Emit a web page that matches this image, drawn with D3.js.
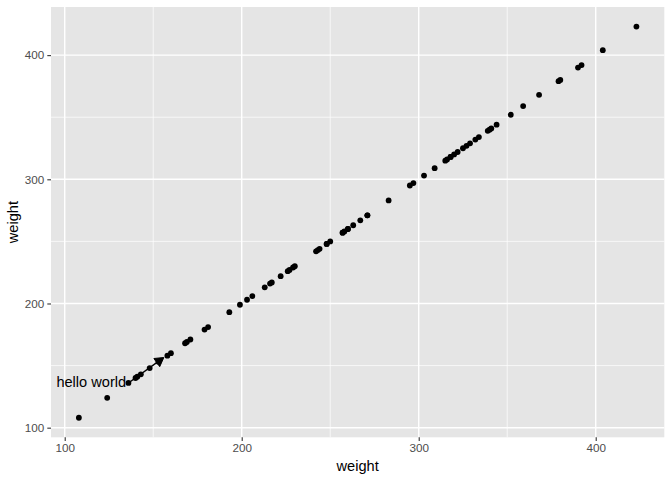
<!DOCTYPE html>
<html><head><meta charset="utf-8">
<script src="https://cdn.jsdelivr.net/npm/d3@7"></script>
<style>body{margin:0;background:#fff}svg{display:block}text{font-family:"Liberation Sans",Arial,Helvetica,sans-serif}</style>
</head><body>
<script>
const weights = [179,160,136,227,217,168,108,124,143,140,
 309,229,181,141,260,203,148,169,213,257,244,271,
 243,230,248,327,329,250,193,271,316,267,199,171,158,248,
 423,340,392,339,341,226,320,295,334,322,297,318,
 325,257,303,315,380,153,263,242,206,344,258,
 368,390,379,260,404,318,352,359,216,222,283,332];
const xTicks = [100,200,300,400];
const yTicks = [100,200,300,400];
const minorTicks = [150,250,350];
const annotationText = ["hello world"];
const annotationPos = [[115,136.5]];
const arrowFrom = [136,136];
const arrowTo = [156,156.5];

const W=672,H=480;
const pl=51,pr=664.3,pt=7,pb=437.3;
const x=d3.scaleLinear().domain([92.25,438.75]).range([pl,pr]);
const y=d3.scaleLinear().domain([92.25,438.75]).range([pb,pt]);
const svg=d3.select("body").append("svg").attr("width",W).attr("height",H);
svg.append("rect").attr("x",pl).attr("y",pt).attr("width",pr-pl).attr("height",pb-pt).attr("fill","#E5E5E5");
const g=svg.append("g");
g.selectAll(".vmin").data(minorTicks).join("line").attr("x1",d=>x(d)).attr("x2",d=>x(d)).attr("y1",pt).attr("y2",pb).attr("stroke","#fff").attr("stroke-width",0.7);
g.selectAll(".hmin").data(minorTicks).join("line").attr("y1",d=>y(d)).attr("y2",d=>y(d)).attr("x1",pl).attr("x2",pr).attr("stroke","#fff").attr("stroke-width",0.7);
g.selectAll(".vmaj").data(xTicks).join("line").attr("x1",d=>x(d)).attr("x2",d=>x(d)).attr("y1",pt).attr("y2",pb).attr("stroke","#fff").attr("stroke-width",1.4);
g.selectAll(".hmaj").data(yTicks).join("line").attr("y1",d=>y(d)).attr("y2",d=>y(d)).attr("x1",pl).attr("x2",pr).attr("stroke","#fff").attr("stroke-width",1.4);

// axes
const xa=svg.append("g").attr("transform",`translate(0,${pb})`).call(d3.axisBottom(x).tickValues(xTicks).tickSize(3.7).tickPadding(3));
const ya=svg.append("g").attr("transform",`translate(${pl},0)`).call(d3.axisLeft(y).tickValues(yTicks).tickSize(3.7).tickPadding(3));
[xa,ya].forEach(a=>{a.select(".domain").remove();a.selectAll(".tick line").attr("stroke","#333").attr("stroke-width",1.1);a.selectAll(".tick text").attr("fill","#4D4D4D").attr("font-size","11.7px").attr("font-family","Liberation Sans, Arial, sans-serif");});

// points
svg.append("g").selectAll("circle").data(weights).join("circle").attr("cx",d=>x(d)).attr("cy",d=>y(d)).attr("r",2.9).attr("fill","#000");

// annotation arrow
const x1=x(arrowFrom[0]),y1=y(arrowFrom[1]),x2=x(arrowTo[0]),y2=y(arrowTo[1]);
const ang=Math.atan2(y2-y1,x2-x1),L=10,hw=Math.PI/6;
svg.append("line").attr("x1",x1).attr("y1",y1).attr("x2",x2-Math.cos(ang)*L*0.8).attr("y2",y2-Math.sin(ang)*L*0.8).attr("stroke","#000").attr("stroke-width",1.4);
svg.append("path").attr("d",`M${x2},${y2}L${x2-L*Math.cos(ang-hw)},${y2-L*Math.sin(ang-hw)}L${x2-L*Math.cos(ang+hw)},${y2-L*Math.sin(ang+hw)}Z`).attr("fill","#000").attr("stroke","#000").attr("stroke-width",1);
svg.selectAll(".ann").data(annotationText).join("text").attr("x",(d,i)=>x(annotationPos[i][0])).attr("y",(d,i)=>y(annotationPos[i][1])).attr("dy","0.35em").attr("text-anchor","middle").attr("font-size","14.6px").attr("fill","#000").text(d=>d);

// titles
svg.append("text").attr("x",(pl+pr)/2).attr("y",471).attr("text-anchor","middle").attr("font-size","14.6px").attr("fill","#000").text("weight");
svg.append("text").attr("transform",`translate(18,${(pt+pb)/2}) rotate(-90)`).attr("text-anchor","middle").attr("font-size","14.6px").attr("fill","#000").text("weight");
</script>
</body></html>
